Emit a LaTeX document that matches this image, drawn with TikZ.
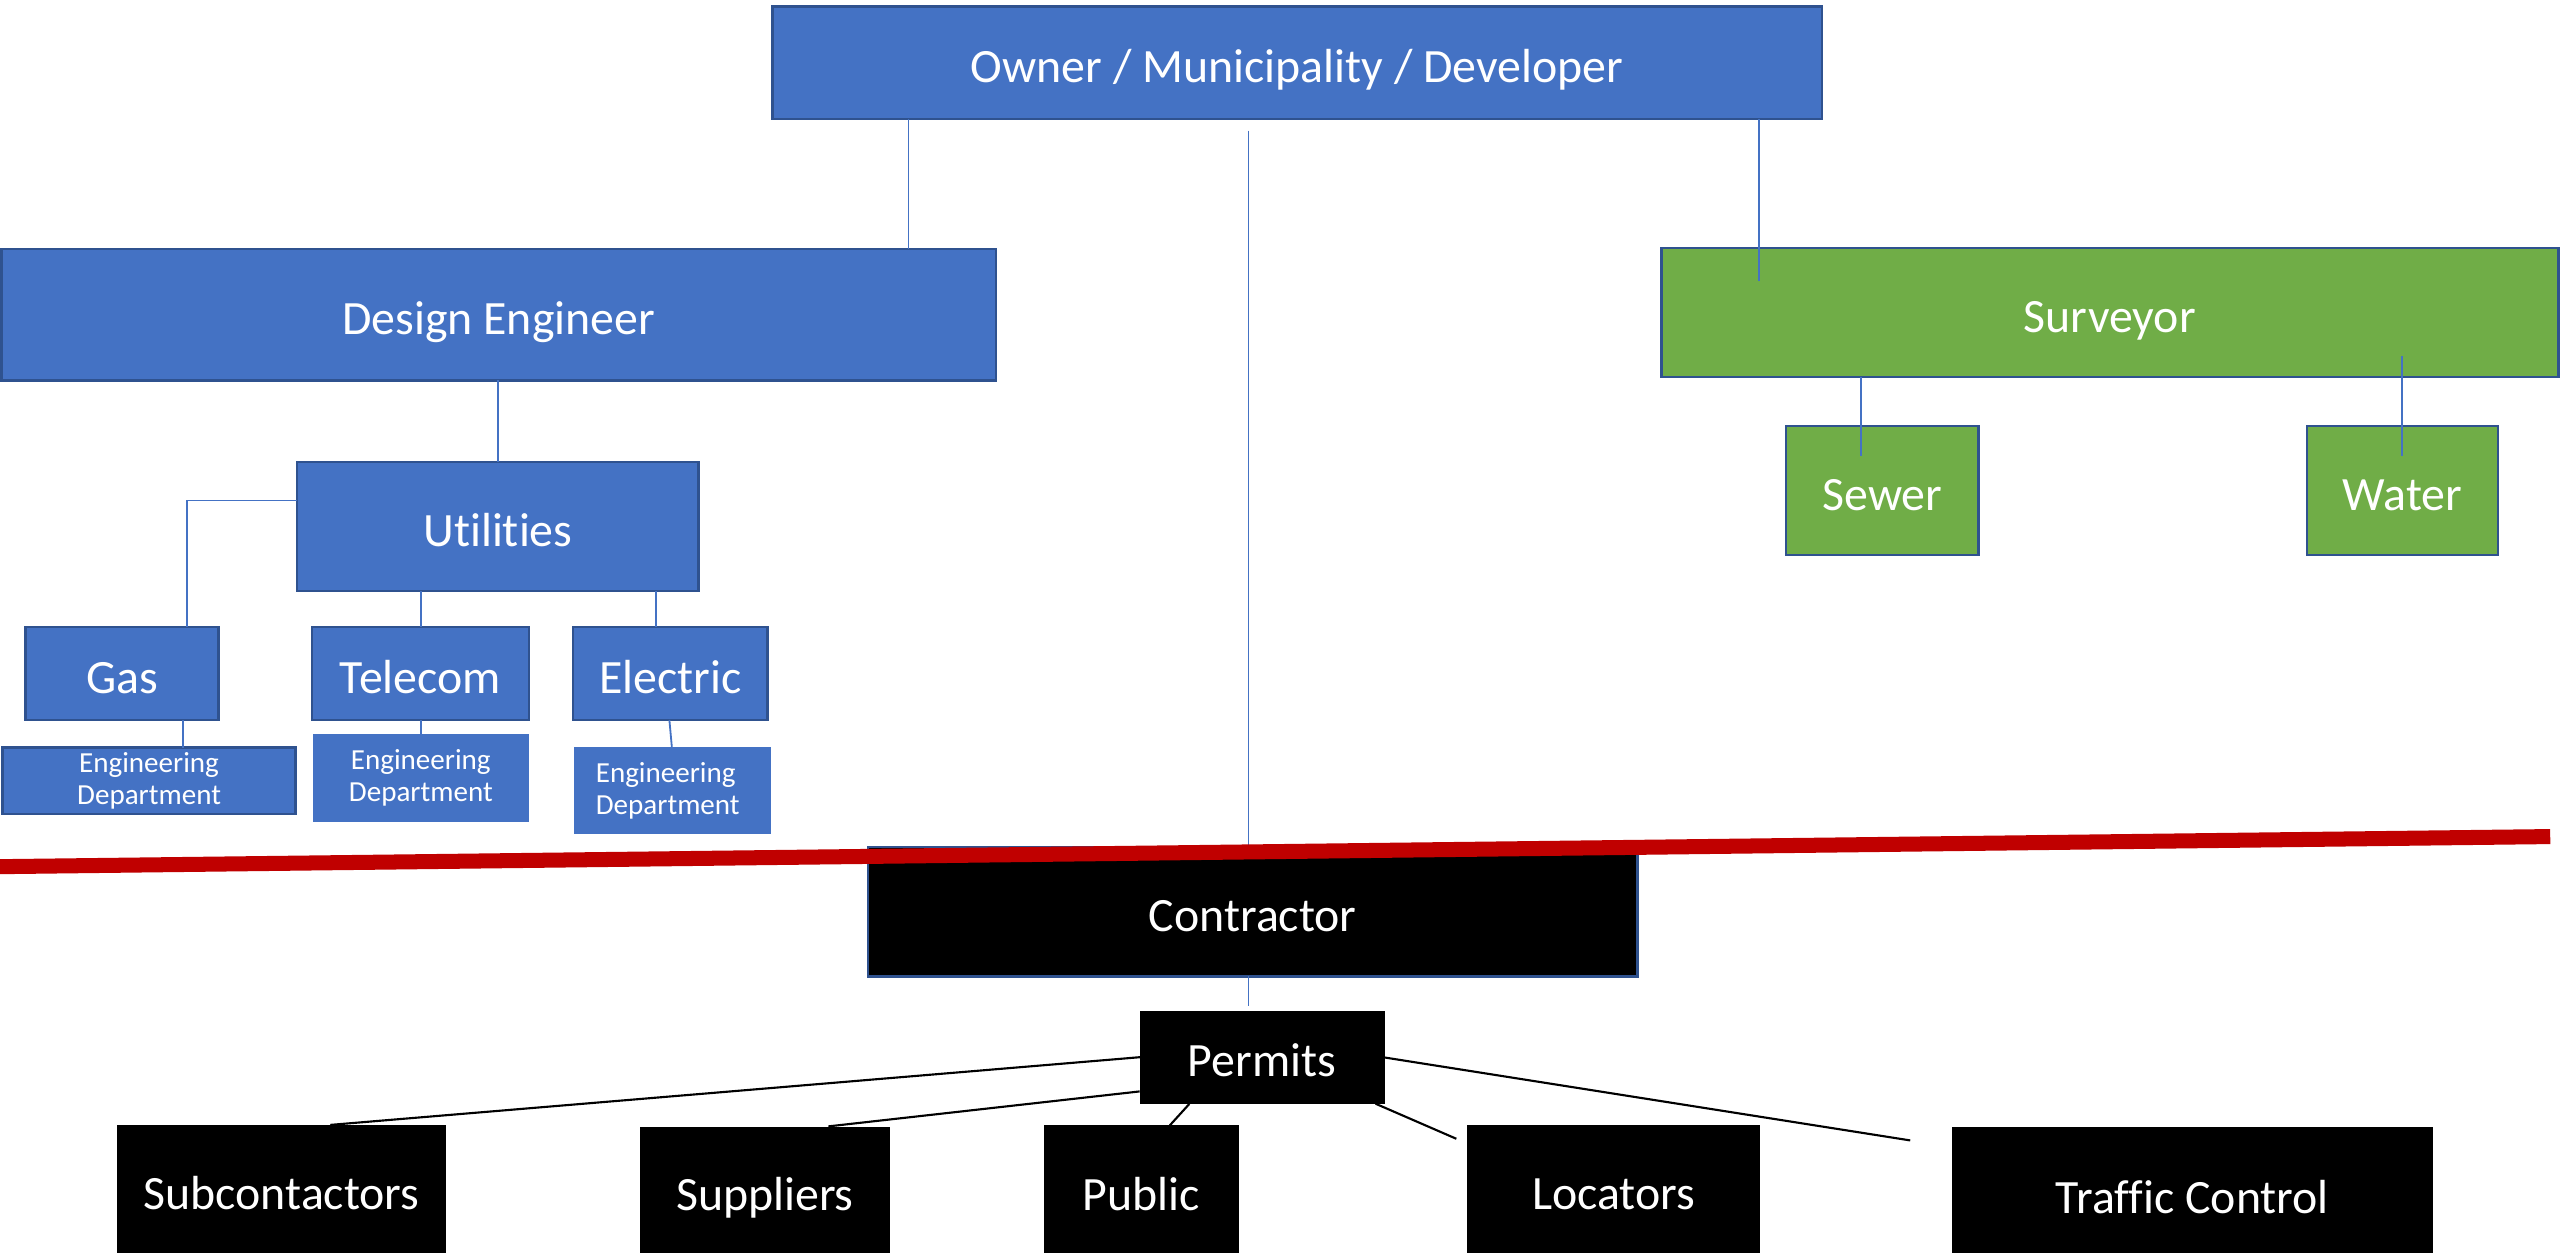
\documentclass[tikz,border=0pt]{standalone}
\usepackage{fontspec}
\setmainfont[Ligatures={NoCommon}]{Carlito}
\definecolor{obl}{HTML}{4472C4}
\definecolor{obd}{HTML}{2F528F}
\definecolor{ogr}{HTML}{70AD47}
\definecolor{ored}{HTML}{C00000}
\begin{document}
\begin{tikzpicture}[x=1pt,y=-1pt,
  box/.style={rectangle, inner sep=0pt, outer sep=0pt, text=white,
    font=\fontsize{29.3}{32}\selectfont, line width=1.6pt,
    text height=31.4pt, text depth=7.3pt},
  bluebox/.style={box, fill=obl, draw=obd},
  greenbox/.style={box, fill=ogr, draw=obd},
  blackbox/.style={box, fill=black},
  engbox/.style={rectangle, inner sep=0pt, outer sep=0pt, text=white,
    fill=obl, align=center, line width=1.6pt,
    font=\fontsize{17.8}{19.5}\selectfont},
  bl/.style={draw=obl, line width=1.1pt},
  bk/.style={draw=black, line width=1.3pt}]
\clip (0,0) rectangle (1568,767);
\fill[white] (0,0) rectangle (1568,767);
% boxes
\node[bluebox, minimum width=643pt, minimum height=69pt] (owner) at (794.5,38.5) {Owner / Municipality / Developer};
\node[bluebox, minimum width=609.2pt, minimum height=80.5pt] (design) at (305.4,192.75) {Design Engineer};
\node[bluebox, minimum width=246pt, minimum height=79pt] (util) at (305,322.5) {Utilities};
\node[bluebox, minimum width=118.4pt, minimum height=57pt] (gas) at (74.8,412.5) {Gas};
\node[bluebox, minimum width=133pt, minimum height=57pt] (tel) at (257.5,412.5) {Telecom};
\node[bluebox, minimum width=119pt, minimum height=57pt] (ele) at (410.5,412.5) {Electric};
\node[engbox, draw=obd, minimum width=179.4pt, minimum height=40.5pt] (gaseng) at (91.3,478.25) {Engineering\\Department};
\node[engbox, minimum width=132.5pt, minimum height=53.9pt] (teleng) at (257.75,476.45) {Engineering\\Department};
\node[engbox, align=left, minimum width=121pt, minimum height=53.3pt] (eleeng) at (412,484.15) {\hspace*{-6pt}Engineering\\\hspace*{-6pt}Department};
\node[greenbox, minimum width=549.5pt, minimum height=79pt] (surv) at (1292.25,191.5) {Surveyor};
\node[greenbox, minimum width=118pt, minimum height=79pt] (sewer) at (1153,300.5) {Sewer};
\node[greenbox, minimum width=117pt, minimum height=79pt] (water) at (1471.5,300.5) {Water};
\node[blackbox, draw=obd, minimum width=471.4pt, minimum height=79.3pt] (contr) at (767.3,558.35) {Contractor};
\node[blackbox, minimum width=150pt, minimum height=57pt] (perm) at (773,647.5) {Permits};
\node[blackbox, minimum width=201.8pt, minimum height=80pt] (sub) at (172.5,729) {Subcontactors};
\node[blackbox, minimum width=153pt, minimum height=79pt] (sup) at (468.5,729.5) {Suppliers};
\node[blackbox, minimum width=118.9pt, minimum height=79.7pt] (pub) at (699.15,729.15) {Public};
\node[blackbox, minimum width=179.2pt, minimum height=80pt] (loc) at (988.4,729) {Locators};
\node[blackbox, minimum width=294.3pt, minimum height=82pt] (traf) at (1342.85,731) {Traffic Control};
% helper coordinates
\coordinate (xd) at (556.5,0);
\coordinate (ctop) at (764.7,80);
\coordinate (xs) at (1077.6,0);
\coordinate (send) at (1077.6,172.4);
\coordinate (xg) at (114.7,306.6);
\coordinate (xgd) at (112,0);
\coordinate (xt) at (258,0);
\coordinate (xe) at (402,0);
\coordinate (ee1) at (410,441);
\coordinate (ee2) at (411.5,457.5);
\coordinate (sw1) at (1140,279.4);
\coordinate (wa1) at (1471,218);
\coordinate (wa2) at (1471,279.4);
\coordinate (pend) at (764.7,616);
\coordinate (pl) at (698.5,647.5);
\coordinate (pl2) at (698,668.5);
\coordinate (pb) at (728.4,676.2);
\coordinate (pbr) at (842.5,676);
\coordinate (pr) at (848,647.7);
\coordinate (locend) at (892,697.5);
\coordinate (trend) at (1170,698.5);
\coordinate (subend) at (202.3,689);
\coordinate (supend) at (507.4,689.9);
\coordinate (pubend) at (716.5,689.3);
% connectors
\draw[bl] (owner.south -| xd) -- (design.north -| xd);
\draw[bl] (ctop) -- (contr.north -| ctop);
\draw[bl] (owner.south -| xs) -- (send);
\draw[bl] (design.south -| util.north) -- (util.north);
\draw[bl] (util.west |- xg) -- (xg) -- (gas.north -| xg);
\draw[bl] (util.south -| xt) -- (tel.north -| xt);
\draw[bl] (util.south -| xe) -- (ele.north -| xe);
\draw[bl] (gas.south -| xgd) -- (gaseng.north -| xgd);
\draw[bl] (tel.south -| xt) -- (teleng.north -| xt);
\draw[bl] (ee1) -- (ee2);
\draw[bl] (surv.south -| sw1) -- (sw1);
\draw[bl] (wa1) -- (wa2);
\draw[bl] (contr.south -| pend) -- (pend);
\draw[bk] (pl) -- (subend);
\draw[bk] (pl2) -- (supend);
\draw[bk] (pb) -- (pubend);
\draw[bk] (pbr) -- (locend);
\draw[bk] (pr) -- (trend);
% red divider
\draw[ored, line width=9.2pt] (-2,530.85) coordinate (r1) -- (1562,512.4) coordinate (r2);
\end{tikzpicture}
\end{document}
